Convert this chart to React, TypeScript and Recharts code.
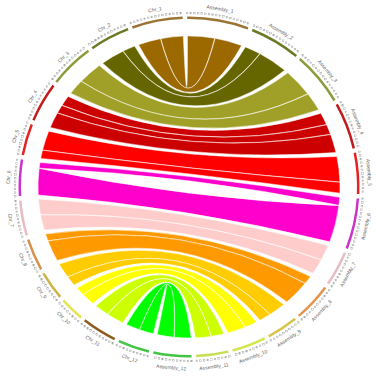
import { PieChart, Pie, Cell, Customized } from 'recharts';

const chrNames = ['Chr_1', 'Chr_2', 'Chr_3', 'Chr_4', 'Chr_5', 'Chr_6', 'Chr_7', 'Chr_8', 'Chr_9', 'Chr_10', 'Chr_11', 'Chr_12'];
const asmNames = ['Assembly_1', 'Assembly_2', 'Assembly_3', 'Assembly_4', 'Assembly_5', 'Assembly_6', 'Assembly_7', 'Assembly_8', 'Assembly_9', 'Assembly_10', 'Assembly_11', 'Assembly_12'];

// chromosome lengths (Mb, read from the arc spans)
const chrLength = [87, 69, 76, 68, 54, 62, 60, 55, 49, 42, 60, 54];
const asmLength = [105, 87, 92, 80, 70, 87, 60, 66, 54, 58, 55, 65];

const linkColors = ['#9c6800', '#666600', '#a0a028', '#cc0000', '#ff0000', '#ff00cc', '#ffcccc', '#ff9900', '#ffcc00', '#ffff00', '#ccff00', '#00ff00'];
const chrColors = ['#9a7434', '#6b7a24', '#8c9c3c', '#c41a1a', '#e42222', '#cc33cc', '#e8bcc4', '#d4904c', '#ccb444', '#e4e454', '#8c5c1c', '#44c444'];
const asmColors = ['#9a7434', '#6b7a24', '#8c9c3c', '#c41a1a', '#e42222', '#cc33cc', '#e8bcc4', '#e4944c', '#d8c44c', '#d4e44c', '#c8dc54', '#44c444'];

// breaks between synteny blocks inside each link (fraction along the chromosome)
const blockCuts = [[0.5], [0.35], [0.6], [0.3, 0.55], [0.7], [0.18], [0.5], [0.25], [0.6], [0.4], [0.45], [0.5]];

const CX = 189;
const CY = 187;
const START = 90.6;
const PAD = 1.55;
const RING_IN = 168;
const RING_OUT = 170.5;
const LINK_R = 151;
const BEZ_R = 16;
const PURITY = 0.75;
const TICK_STEP = 6;

const ringData = [
  ...asmNames.map((name, i) => ({ name, value: asmLength[i], color: asmColors[i] })),
  ...chrNames.map((name, i) => ({ name, value: chrLength[i], color: chrColors[i] })).reverse(),
];

const RAD = Math.PI / 180;
const pt = (angle: number, r: number) => [CX + r * Math.cos(angle * RAD), CY - r * Math.sin(angle * RAD)];

// same angular layout the Pie uses (clockwise from START, PAD after each sector)
const sectorAngles = () => {
  const total = ringData.reduce((s, d) => s + d.value, 0);
  const span = 360 - PAD * ringData.length;
  let a = START;
  const out: Record<string, { s: number; e: number }> = {};
  ringData.forEach((d) => {
    const s = a;
    const e = s - (d.value / total) * span;
    out[d.name] = { s, e };
    a = e - PAD;
  });
  return out;
};

// circos-like control point: bezier radius on the bisector, pulled toward the chord midpoint
const ctrl = (a1: number, a2: number) => {
  let d = (a2 - a1) % 360;
  if (d > 180) d -= 360;
  if (d <= -180) d += 360;
  const [bx, by] = pt(a1 + d / 2, BEZ_R);
  const [x1, y1] = pt(a1, LINK_R);
  const [x2, y2] = pt(a2, LINK_R);
  const mx = (x1 + x2) / 2;
  const my = (y1 + y2) / 2;
  return [PURITY * bx + (1 - PURITY) * mx, PURITY * by + (1 - PURITY) * my];
};

const ribbonPath = (c0: number, c1: number, a1: number, a0: number) => {
  const sw = (from: number, to: number) => (to < from ? 1 : 0);
  const p = (a: number) => pt(a, LINK_R).map((v) => v.toFixed(2)).join(' ');
  const q = (a: number, b: number) => ctrl(a, b).map((v) => v.toFixed(2)).join(' ');
  return (
    `M ${p(c0)} A ${LINK_R} ${LINK_R} 0 0 ${sw(c0, c1)} ${p(c1)} ` +
    `Q ${q(c1, a1)} ${p(a1)} A ${LINK_R} ${LINK_R} 0 0 ${sw(a1, a0)} ${p(a0)} ` +
    `Q ${q(a0, c0)} ${p(c0)} Z`
  );
};

const Ribbons = () => {
  const ang = sectorAngles();
  const paths: any[] = [];
  chrNames.forEach((chr, i) => {
    const c = ang[chr];
    const a = ang[asmNames[i]];
    const chrAt = (f: number) => c.e + f * (c.s - c.e);
    const asmAt = (f: number) => a.s + f * (a.e - a.s);
    const edges = [0, ...blockCuts[i], 1];
    for (let k = 0; k < edges.length - 1; k++) {
      const f0 = edges[k] + (k > 0 ? 0.004 : 0);
      const f1 = edges[k + 1] - (k < edges.length - 2 ? 0.004 : 0);
      paths.push(
        <path
          key={`${chr}-${k}`}
          d={ribbonPath(chrAt(f0), chrAt(f1), asmAt(f1), asmAt(f0))}
          fill={linkColors[i]}
          stroke="#fff"
          strokeWidth={0.5}
        />
      );
    }
  });
  return <g>{paths}</g>;
};

const renderSegmentLabel = (props: any) => {
  const { startAngle, endAngle, midAngle, name, value } = props;
  const ticks = [];
  for (let v = 0; v <= value; v += TICK_STEP) {
    const ang = startAngle + ((endAngle - startAngle) * v) / value;
    const [x, y] = pt(ang, 174);
    ticks.push(<rect key={v} x={x - 0.8} y={y - 0.8} width={1.6} height={1.6} fill="none" stroke="#aaa" strokeWidth={0.5} />);
  }
  const m = ((((midAngle + 180) % 360) + 360) % 360) - 180;
  const rot = Math.sin(m * RAD) >= 0 ? 90 - m : -90 - m;
  const [lx, ly] = pt(m, 181);
  return (
    <g>
      {ticks}
      <text
        x={lx}
        y={ly}
        transform={`rotate(${rot.toFixed(1)} ${lx.toFixed(1)} ${ly.toFixed(1)})`}
        textAnchor="middle"
        dominantBaseline="central"
        fontSize={5}
        fill="#666"
        fontFamily="'Liberation Sans', Arial, sans-serif"
      >
        {name}
      </text>
    </g>
  );
};

export default function App() {
  return (
    <div style={{ position: 'absolute', left: 0, top: 0, width: 376, height: 376, background: '#fff' }}>
      <PieChart width={376} height={376} margin={{ top: 0, right: 0, bottom: 0, left: 0 }}>
        <Customized component={<Ribbons />} />
        <Pie
          data={ringData}
          dataKey="value"
          nameKey="name"
          cx={CX}
          cy={CY}
          startAngle={START}
          endAngle={START - 360}
          paddingAngle={PAD}
          innerRadius={RING_IN}
          outerRadius={RING_OUT}
          stroke="none"
          label={renderSegmentLabel}
          labelLine={false}
          isAnimationActive={false}
        >
          {ringData.map((d) => (
            <Cell key={d.name} fill={d.color} />
          ))}
        </Pie>
      </PieChart>
    </div>
  );
}
